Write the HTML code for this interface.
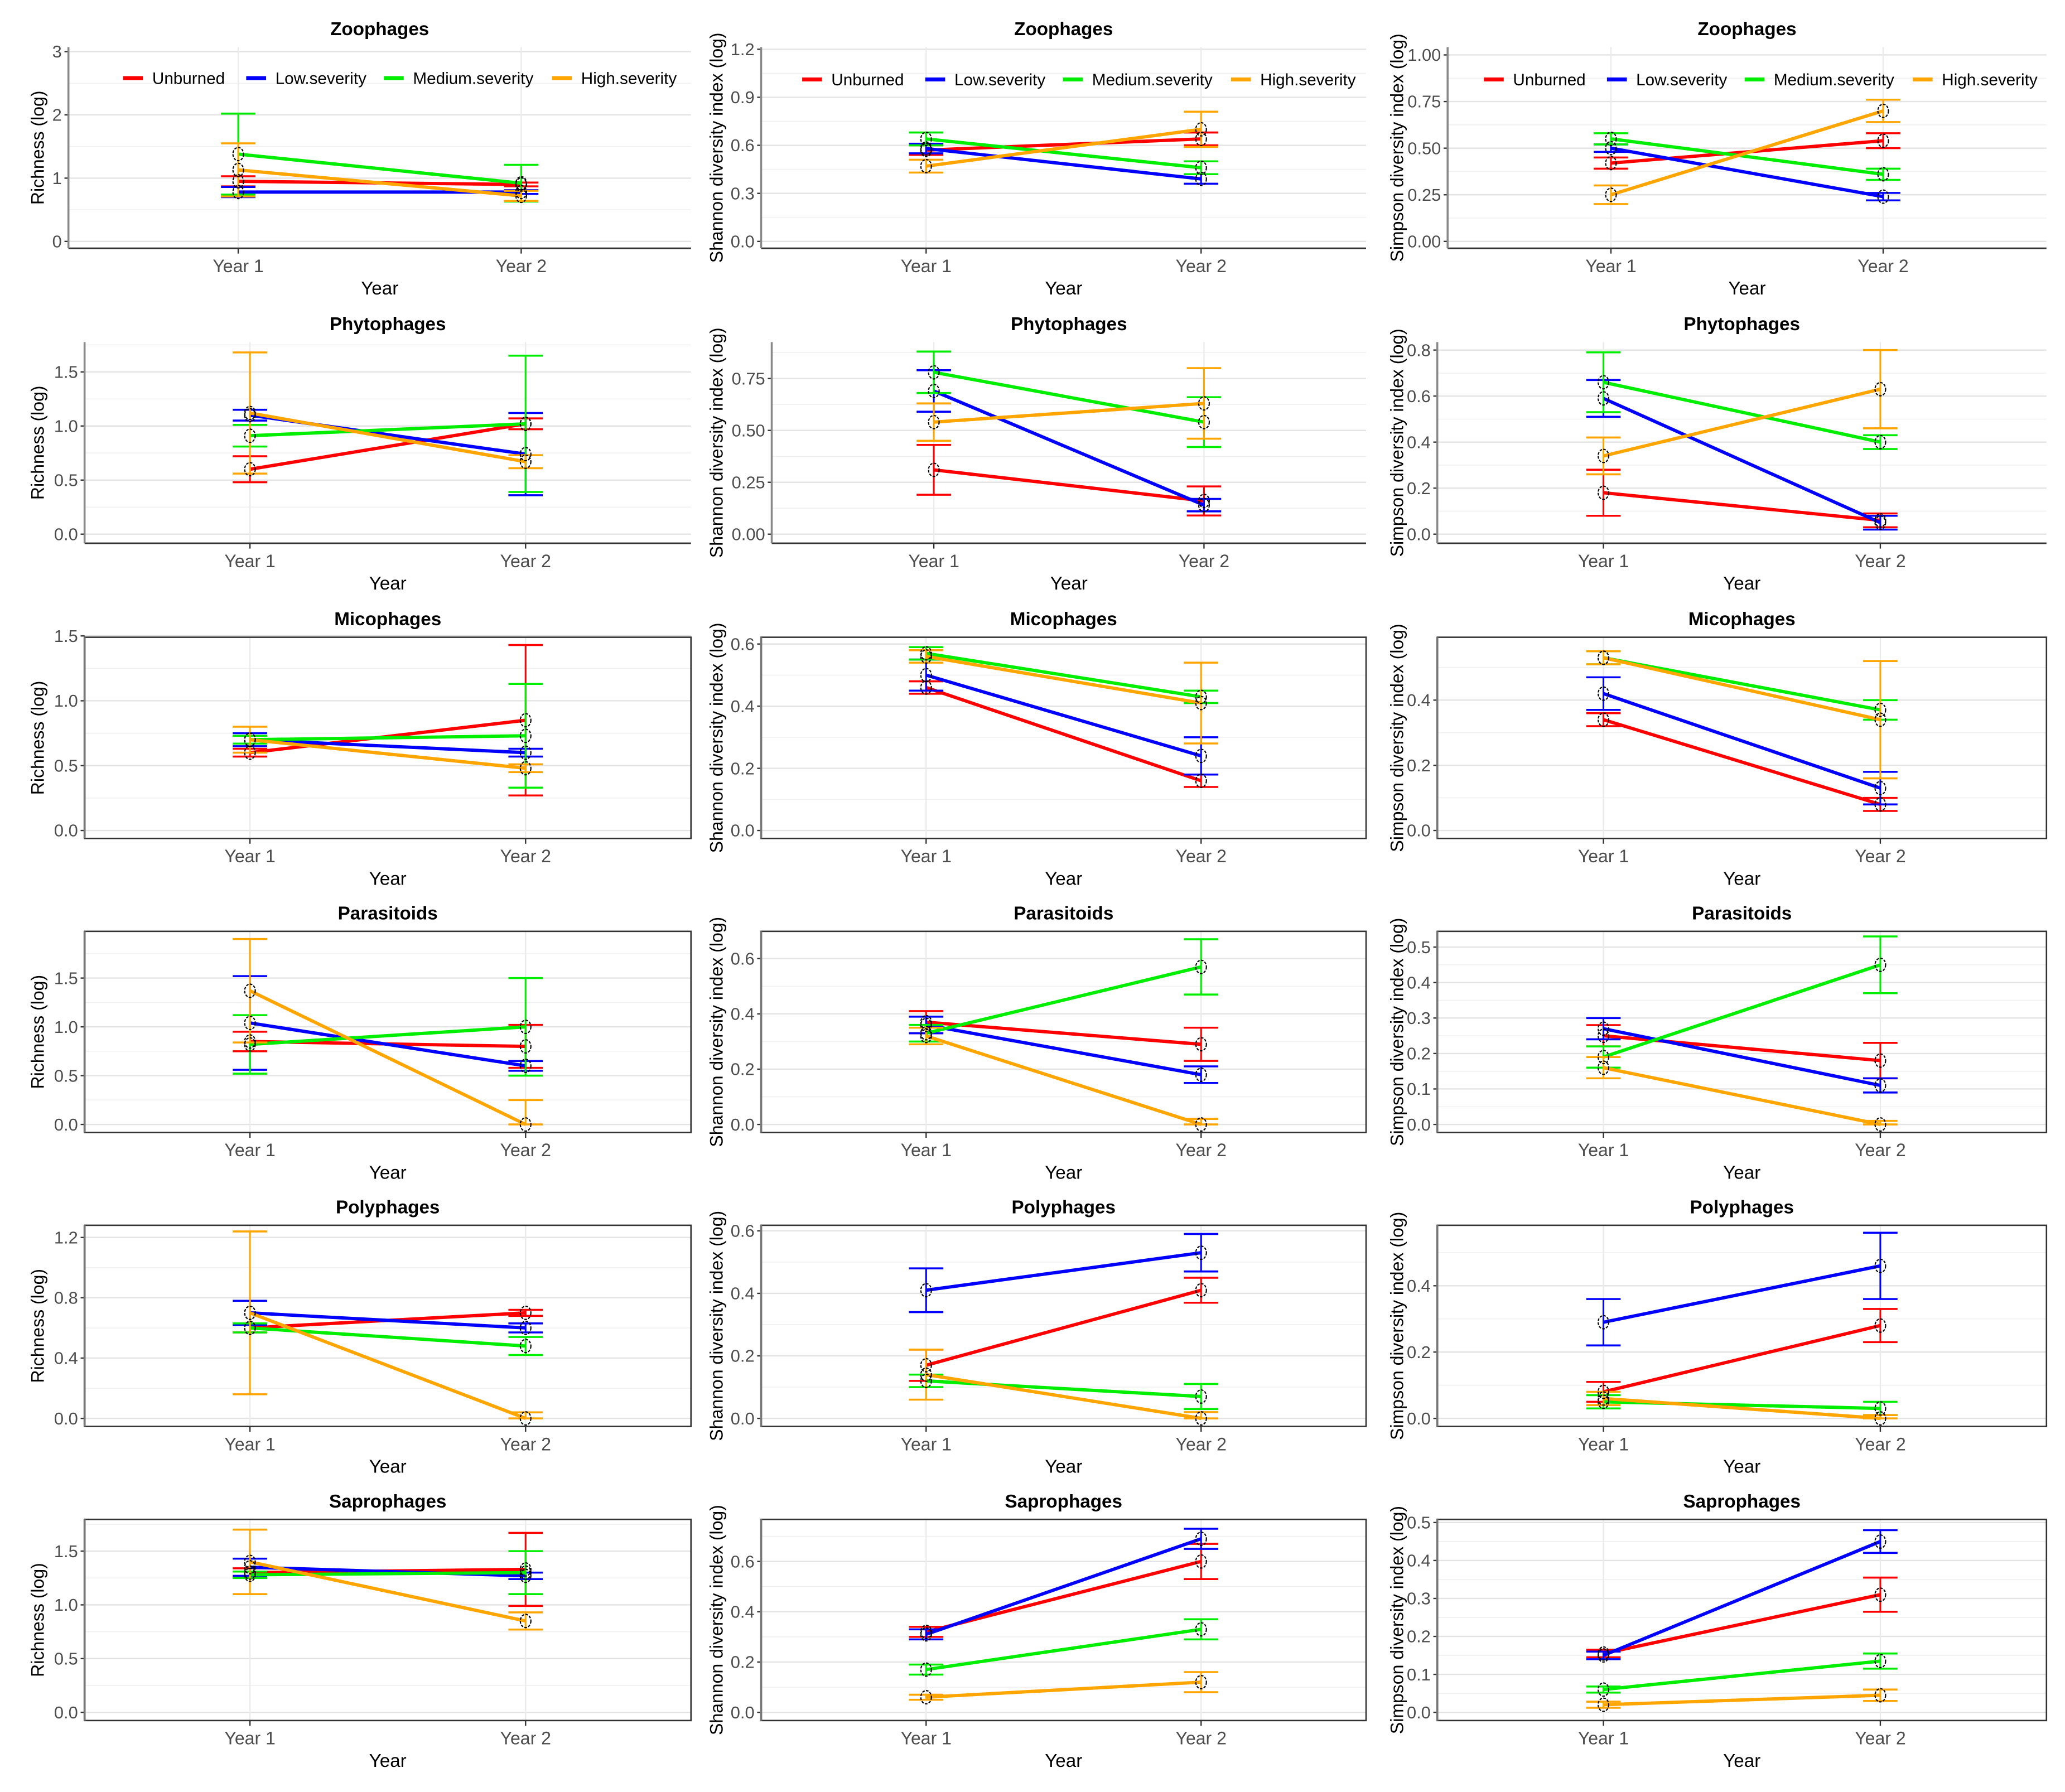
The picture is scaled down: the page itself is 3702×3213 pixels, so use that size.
<!DOCTYPE html>
<html><head><meta charset="utf-8"><style>
html,body{margin:0;padding:0;background:#fff}
svg{display:block}
text{font-family:"Liberation Sans",sans-serif}
</style></head><body>
<svg id="fig" width="3702" height="3213" viewBox="0 0 1560 1354" preserveAspectRatio="none" xmlns="http://www.w3.org/2000/svg"></svg>
<script>
// ---- data (panel order: row-major, 6 groups x 3 metrics) ----
const groups = ["Zoophages","Phytophages","Micophages","Parasitoids","Polyphages","Saprophages"];
const metricTitles = ["Richness (log)","Shannon diversity index (log)","Simpson diversity index (log)"];
const years = ["Year 1","Year 2"];
const seriesNames = ["Unburned","Low.severity","Medium.severity","High.severity"];
const seriesColors = ["#ff0000","#0000ff","#00ee00","#ffa500"];
const unburned = [[0.95,0.90],[0.57,0.64],[0.42,0.54],[0.60,1.02],[0.31,0.16],[0.18,0.06],[0.60,0.85],[0.46,0.16],[0.34,0.08],[0.85,0.80],[0.37,0.29],[0.25,0.18],[0.60,0.70],[0.17,0.41],[0.08,0.28],[1.30,1.33],[0.32,0.60],[0.155,0.31]];
const lowSev = [[0.78,0.78],[0.58,0.39],[0.50,0.24],[1.10,0.74],[0.69,0.14],[0.59,0.05],[0.70,0.60],[0.50,0.24],[0.42,0.13],[1.04,0.60],[0.36,0.18],[0.27,0.11],[0.70,0.60],[0.41,0.53],[0.29,0.46],[1.35,1.27],[0.31,0.69],[0.15,0.45]];
const medSev = [[1.38,0.92],[0.64,0.46],[0.55,0.36],[0.91,1.02],[0.78,0.54],[0.66,0.40],[0.70,0.73],[0.57,0.43],[0.53,0.37],[0.82,1.00],[0.33,0.57],[0.19,0.45],[0.60,0.48],[0.12,0.07],[0.05,0.03],[1.28,1.30],[0.17,0.33],[0.06,0.135]];
const highSev = [[1.13,0.72],[0.47,0.70],[0.25,0.70],[1.12,0.67],[0.54,0.63],[0.34,0.63],[0.70,0.48],[0.56,0.41],[0.53,0.34],[1.37,0.00],[0.32,0.00],[0.16,0.00],[0.70,0.00],[0.14,0.00],[0.06,0.00],[1.40,0.85],[0.06,0.12],[0.02,0.045]];
const errU = [[0.08,0.03],[0.03,0.04],[0.03,0.04],[0.12,0.05],[0.12,0.07],[0.10,0.03],[0.03,0.58],[0.02,0.02],[0.02,0.02],[0.10,0.22],[0.04,0.06],[0.03,0.05],[0.03,0.02],[0.05,0.04],[0.03,0.05],[0.04,0.34],[0.02,0.07],[0.01,0.045]];
const errL = [[0.08,0.03],[0.03,0.03],[0.02,0.02],[0.05,0.38],[0.10,0.03],[0.08,0.03],[0.05,0.03],[0.05,0.06],[0.05,0.05],[0.48,0.05],[0.03,0.03],[0.03,0.02],[0.08,0.03],[0.07,0.06],[0.07,0.10],[0.08,0.03],[0.02,0.04],[0.01,0.03]];
const errM = [[0.64,0.29],[0.04,0.04],[0.03,0.03],[0.10,0.63],[0.10,0.12],[0.13,0.03],[0.03,0.40],[0.02,0.02],[0.02,0.03],[0.30,0.50],[0.03,0.10],[0.03,0.08],[0.03,0.06],[0.02,0.04],[0.02,0.02],[0.03,0.20],[0.02,0.04],[0.008,0.02]];
const errH = [[0.42,0.08],[0.04,0.11],[0.05,0.06],[0.56,0.06],[0.09,0.17],[0.08,0.17],[0.10,0.03],[0.02,0.13],[0.02,0.18],[0.53,0.25],[0.03,0.02],[0.03,0.01],[0.54,0.04],[0.08,0.02],[0.02,0.01],[0.30,0.08],[0.01,0.04],[0.008,0.015]];
const tickLabels = [
 ["0","1","2","3"],["0.0","0.3","0.6","0.9","1.2"],["0.00","0.25","0.50","0.75","1.00"],
 ["0.0","0.5","1.0","1.5"],["0.00","0.25","0.50","0.75"],["0.0","0.2","0.4","0.6","0.8"],
 ["0.0","0.5","1.0","1.5"],["0.0","0.2","0.4","0.6"],["0.0","0.2","0.4"],
 ["0.0","0.5","1.0","1.5"],["0.0","0.2","0.4","0.6"],["0.0","0.1","0.2","0.3","0.4","0.5"],
 ["0.0","0.4","0.8","1.2"],["0.0","0.2","0.4","0.6"],["0.0","0.2","0.4"],
 ["0.0","0.5","1.0","1.5"],["0.0","0.2","0.4","0.6"],["0.0","0.1","0.2","0.3","0.4","0.5"]];
// ---- layout (pixels, not data) ----
const rowBottom = [187.6,410.5,633.5,855.7,1077.8,1300];
const yZeroPix = [182.4,182.4,182.4, 403.6,403.6,403.6, 627.5,627.5,627.5, 849.6,849.6,849.6, 1071.7,1071.7,1071.7, 1293.8,1293.8,1293.8];
const yTopPix = [39,37.2,41.5, 281,286,264.5, 480.5,486.6,529, 739,724.3,715.6, 935,930,971.5, 1172,1179.8,1150.4];
const panelLeft = [51.7,575,1093.6, 63.9,583,1085.8, 63.9,575,1085.8, 63.9,575,1085.8, 63.9,575,1085.8, 63.9,575,1085.8];
const colRight=[522,1032,1546];
const svg=document.getElementById('fig');
const NS="http://www.w3.org/2000/svg";
function mk(tag,attrs,parent){const e=document.createElementNS(NS,tag);for(const k in attrs)e.setAttribute(k,attrs[k]);(parent||svg).appendChild(e);return e;}
const allSeries=[unburned,lowSev,medSev,highSev];
const allErr=[errU,errL,errM,errH];
for(let p=0;p<18;p++){
  const r=Math.floor(p/3), c=p%3;
  const g=mk('g',{});
  
  
  const left = panelLeft[p], right=colRight[c];
  const bottom = rowBottom[r], top = bottom-152;
  const w=right-left;
  const xs=[left+w*0.6/2.2,left+w*1.6/2.2];
  const mid=(left+right)/2;
  const ticks=tickLabels[p].map(Number), tmax=ticks[ticks.length-1];
  const y0=yZeroPix[p], y1=yTopPix[p];
  const Y=v=>y0+(y1-y0)*v/tmax;
  const step=ticks[1]-ticks[0];
  // minor grid
  for(let m=ticks[0]-step/2;Y(m)>top;m+=step){ if(Y(m)<bottom) mk('line',{x1:left,x2:right,y1:Y(m),y2:Y(m),stroke:'#f0f0f0','stroke-width':0.7},g);}
  for(let i=0;i<ticks.length;i++){
    mk('line',{x1:left,x2:right,y1:Y(ticks[i]),y2:Y(ticks[i]),stroke:'#e3e3e3','stroke-width':1},g);
    const t=mk('text',{x:left-5,y:Y(ticks[i])+4.5,'text-anchor':'end','font-size':13,fill:'#4d4d4d'},g);t.textContent=tickLabels[p][i];
    
    
    mk('line',{x1:left-3,x2:left,y1:Y(ticks[i]),y2:Y(ticks[i]),stroke:'#333','stroke-width':1},g);
  }
  xs.forEach((x,i)=>{mk('line',{x1:x,x2:x,y1:top,y2:bottom,stroke:'#ebebeb','stroke-width':1},g);
    mk('line',{x1:x,x2:x,y1:bottom,y2:bottom+4,stroke:'#333','stroke-width':1},g);
    const t=mk('text',{x:x,y:bottom+18,'text-anchor':'middle','font-size':13.5,fill:'#4d4d4d'},g);t.textContent=years[i];
    
    });
  // frame
  if(r<2){mk('line',{x1:left,x2:right,y1:bottom,y2:bottom,stroke:'#333','stroke-width':1.2},g);
    mk('line',{x1:left,x2:left,y1:top,y2:bottom,stroke:'#888','stroke-width':1.5},g);}
  else{mk('rect',{x:left,y:top,width:w,height:bottom-top,fill:'none',stroke:'#333','stroke-width':1.1},g);
    mk('line',{x1:left,x2:left,y1:top,y2:bottom,stroke:'#777','stroke-width':1.6},g);}
  // titles
  const tt=mk('text',{x:mid,y:top-9,'text-anchor':'middle','font-size':14,'font-weight':'bold',fill:'#000'},g);tt.textContent=groups[r];
  
  
  const xt=mk('text',{x:mid,y:bottom+35,'text-anchor':'middle','font-size':14,fill:'#000'},g);xt.textContent='Year';
  
  
  const yx=[33,546,1060][c], ym=(top+bottom)/2;
  const yt=mk('text',{x:yx,y:ym,'text-anchor':'middle','font-size':13.5,fill:'#000',transform:`rotate(-90 ${yx} ${ym})`},g);yt.textContent=metricTitles[c];
  
  
  // series
  for(let s=0;s<4;s++){
    const v=allSeries[s][p], e=allErr[s][p], col=seriesColors[s];
    const ln=mk('line',{x1:xs[0],y1:Y(v[0]),x2:xs[1],y2:Y(v[1]),stroke:col,'stroke-width':2.5},g);
    
    
    for(let i=0;i<2;i++){
      const hi=Y(v[i]+e[i]), lo=Y(Math.max(0,v[i]-e[i]));
      mk('line',{x1:xs[i],x2:xs[i],y1:hi,y2:lo,stroke:col,'stroke-width':1.3},g);
      mk('line',{x1:xs[i]-13,x2:xs[i]+13,y1:hi,y2:hi,stroke:col,'stroke-width':1.5},g);
      mk('line',{x1:xs[i]-13,x2:xs[i]+13,y1:lo,y2:lo,stroke:col,'stroke-width':1.5},g);
    }
  }
  for(let s=0;s<4;s++)for(let i=0;i<2;i++){
    const pt=mk('ellipse',{cx:xs[i],cy:Y(allSeries[s][p][i]),rx:4,ry:5,fill:'none',stroke:'#000','stroke-width':0.9,'stroke-dasharray':'2 1'},g);
    
    
  }
  // legend
  if(r===0){
    const lx=[[93,186,290,417],[606,699,803,930],[1121,1214,1318,1445]][c];
    const ly=c===0?59:60;
    for(let s=0;s<4;s++){
      const lg=mk('g',{},g);
      
      
      mk('line',{x1:lx[s],x2:lx[s]+15,y1:ly,y2:ly,stroke:seriesColors[s],'stroke-width':3},lg);
      const t=mk('text',{x:lx[s]+22,y:ly+4.5,'font-size':12.5,fill:'#000'},lg);t.textContent=seriesNames[s];
    }
  }
}
</script>
</body></html>
